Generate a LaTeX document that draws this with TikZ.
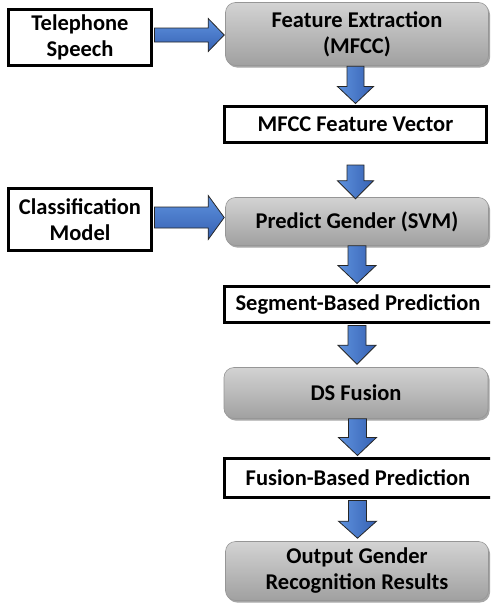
\documentclass[tikz,border=0pt]{standalone}
\usepackage{fontspec}
\setmainfont{Carlito}
\usetikzlibrary{calc,shadows}
\definecolor{arrowlight}{HTML}{5E92DE}
\definecolor{arrowdark}{HTML}{3661B3}
\definecolor{graytop}{HTML}{D3D3D3}
\definecolor{graybot}{HTML}{A0A0A0}
\definecolor{grayedge}{HTML}{969696}
\tikzset{
  whitebox/.style={draw=black, line width=3pt, fill=white, align=center,
    inner sep=0pt, font=\fontsize{22.5}{26}\selectfont\bfseries},
  graybox/.style={draw=grayedge, line width=0.6pt, rounded corners=10pt,
    top color=graytop, bottom color=graybot, align=center, inner sep=0pt,
    drop shadow={shadow xshift=1.5pt, shadow yshift=-2pt, opacity=0.35, fill=black},
    font=\fontsize{22.5}{26}\selectfont\bfseries},
  fatv/.style={draw=black!85, line width=0.8pt, left color=arrowlight, right color=arrowdark, line join=miter},
  fath/.style={draw=black!85, line width=0.8pt, top color=arrowlight, bottom color=arrowdark, line join=miter},
}
% vertical fat arrow: #1 start, #2 tip, #3 shaft half width, #4 head half width, #5 head length
\newcommand\fatdown[5]{%
  \draw[fatv] let \p1=(#1), \p2=(#2) in
    (\x1-#3pt,\y1) -- (\x1+#3pt,\y1) -- (\x1+#3pt,\y2+#5pt) -- (\x1+#4pt,\y2+#5pt)
    -- (\x1,\y2) -- (\x1-#4pt,\y2+#5pt) -- (\x1-#3pt,\y2+#5pt) -- cycle;}
% horizontal fat arrow to the right
\newcommand\fatright[5]{%
  \draw[fath] let \p1=(#1), \p2=(#2) in
    (\x1,\y1+#3pt) -- (\x2-#5pt,\y1+#3pt) -- (\x2-#5pt,\y1+#4pt) -- (\x2,\y1)
    -- (\x2-#5pt,\y1-#4pt) -- (\x2-#5pt,\y1-#3pt) -- (\x1,\y1-#3pt) -- cycle;}
\begin{document}
\begin{tikzpicture}[x=1pt,y=-1pt]
\useasboundingbox (0,0) rectangle (490,605);
\clip (0,0) rectangle (490,605);
\fill[white] (0,0) rectangle (490,605);

\node[whitebox, minimum width=143pt, minimum height=56pt] (tel) at (80,37.5) {Telephone\\Speech};
\node[graybox, minimum width=263pt, minimum height=63pt] (feat) at (357,34) {Feature Extraction\\(MFCC)};
\node[whitebox, minimum width=262pt, minimum height=36pt] (mfcc) at (355.5,124.5) {MFCC Feature Vector};
\node[whitebox, minimum width=143pt, minimum height=62pt] (cls) at (80,219.5) {Classification\\Model};
\node[graybox, minimum width=263pt, minimum height=48pt] (pred) at (357,221.5) {Predict Gender (SVM)};
\node[whitebox, minimum width=268pt, minimum height=36pt] (seg) at (358,304.5) {Segment-Based Prediction};
\node[graybox, minimum width=264pt, minimum height=51pt] (ds) at (356,393) {DS Fusion};
\node[whitebox, minimum width=268pt, minimum height=39pt] (fus) at (358,478) {Fusion-Based Prediction};
\node[graybox, minimum width=263pt, minimum height=59pt] (out) at (357,571) {Output Gender\\Recognition Results};

% horizontal arrows
\fatright{$(tel.east)+(1.5,-2.5)$}{$(feat.west)+(-1,0)$}{7}{16.5}{16}
\fatright{$(cls.east)+(1.5,-2)$}{$(pred.west)+(-1,0)$}{10.5}{22}{16}

% vertical arrows
\fatdown{$(feat.south)+(-1.5,0.5)$}{$(mfcc.north)+(0,-1.5)$}{8.5}{18}{17}
\fatdown{$(mfcc.south)+(0,21)$}{$(pred.north)+(-1.5,1.5)$}{8.5}{18}{18}
\fatdown{$(pred.south)+(0,0)$}{$(seg.north)+(-1,-1.5)$}{9}{19}{18}
\fatdown{$(seg.south)+(-1,1.5)$}{$(ds.north)+(1,-3)$}{9}{19}{19}
\fatdown{$(ds.south)+(1.5,0)$}{$(fus.north)+(-0.5,-1.5)$}{9}{19}{18}
\fatdown{$(fus.south)+(-0.5,1.5)$}{$(out.north)+(0,-3)$}{9}{19}{17}
\end{tikzpicture}
\end{document}
